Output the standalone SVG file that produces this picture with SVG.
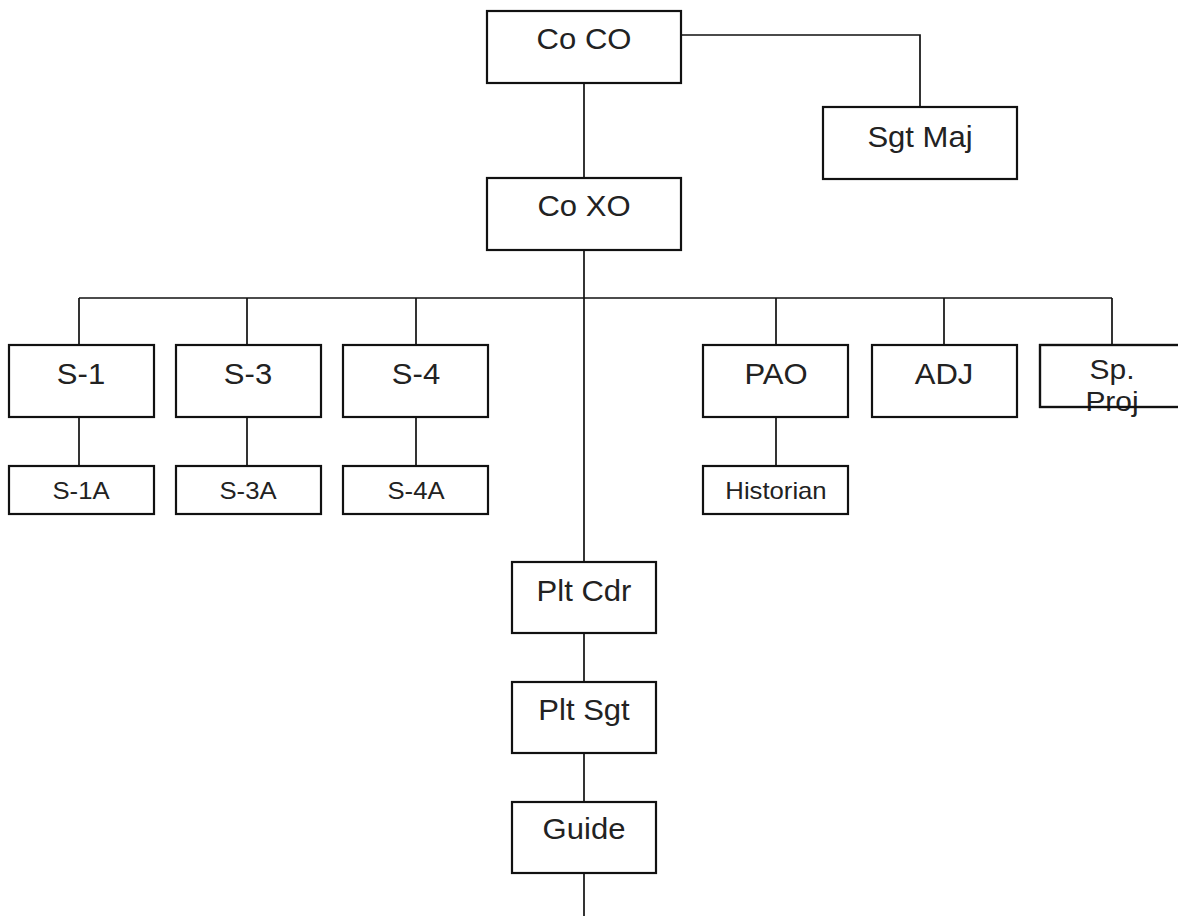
<svg xmlns="http://www.w3.org/2000/svg" width="1178" height="916" viewBox="0 0 1178 916">
<style>
.box{fill:#fff;stroke:#111;stroke-width:2.2}
.frame{fill:none;stroke:#111;stroke-width:2.2}
.t{font-family:"Liberation Sans",Arial,sans-serif;font-size:29px;fill:#222;text-anchor:middle}
.s{font-family:"Liberation Sans",Arial,sans-serif;font-size:24px;fill:#222;text-anchor:middle}
#connectors path{fill:none;stroke:#111;stroke-width:1.7}
</style>
<rect width="1178" height="916" fill="#fff"/>
<g id="connectors">
<path d="M681 35H920V107"/>
<path d="M584 83V178"/>
<path d="M584 250V562"/>
<path d="M79 298H1112"/>
<path d="M79 298V345M247 298V345M416 298V345M776 298V345M944 298V345M1112 298V345"/>
<path d="M79 417V466M247 417V466M416 417V466M776 417V466"/>
<path d="M584 633V682M584 753V802M584 873V916"/>
</g>
<g id="coco"><rect class="box" x="487" y="11" width="194" height="72"/><text class="t" transform="matrix(1.07 0 0 1 584 0)" y="49">Co CO</text></g>
<g id="sgtmaj"><rect class="box" x="823" y="107" width="194" height="72"/><text class="t" transform="matrix(1.07 0 0 1 920 0)" y="147">Sgt Maj</text></g>
<g id="coxo"><rect class="box" x="487" y="178" width="194" height="72"/><text class="t" transform="matrix(1.07 0 0 1 584 0)" y="216">Co XO</text></g>
<g id="s1"><rect class="box" x="9" y="345" width="145" height="72"/><text class="t" transform="matrix(1.07 0 0 1 81 0)" y="384">S-1</text></g>
<g id="s3"><rect class="box" x="176" y="345" width="145" height="72"/><text class="t" transform="matrix(1.07 0 0 1 248 0)" y="384">S-3</text></g>
<g id="s4"><rect class="box" x="343" y="345" width="145" height="72"/><text class="t" transform="matrix(1.07 0 0 1 416 0)" y="384">S-4</text></g>
<g id="pao"><rect class="box" x="703" y="345" width="145" height="72"/><text class="t" transform="matrix(1.07 0 0 1 776 0)" y="384">PAO</text></g>
<g id="adj"><rect class="box" x="872" y="345" width="145" height="72"/><text class="t" transform="matrix(1.07 0 0 1 944 0)" y="384">ADJ</text></g>
<g id="spproj"><rect class="box" x="1040" y="345" width="146" height="62"/><text class="t" transform="matrix(1.07 0 0 1 1112 0)" y="379" style="font-size:28px">Sp.</text><text class="t" transform="matrix(1.07 0 0 1 1112 0)" y="411" style="font-size:28px">Proj</text><rect class="frame" x="1040" y="345" width="146" height="62"/></g>
<g id="s1a"><rect class="box" x="9" y="466" width="145" height="48"/><text class="s" transform="matrix(1.07 0 0 1 81 0)" y="499">S-1A</text></g>
<g id="s3a"><rect class="box" x="176" y="466" width="145" height="48"/><text class="s" transform="matrix(1.07 0 0 1 248 0)" y="499">S-3A</text></g>
<g id="s4a"><rect class="box" x="343" y="466" width="145" height="48"/><text class="s" transform="matrix(1.07 0 0 1 416 0)" y="499">S-4A</text></g>
<g id="historian"><rect class="box" x="703" y="466" width="145" height="48"/><text class="s" transform="matrix(1.07 0 0 1 776 0)" y="499">Historian</text></g>
<g id="pltcdr"><rect class="box" x="512" y="562" width="144" height="71"/><text class="t" transform="matrix(1.07 0 0 1 584 0)" y="601">Plt Cdr</text></g>
<g id="pltsgt"><rect class="box" x="512" y="682" width="144" height="71"/><text class="t" transform="matrix(1.07 0 0 1 584 0)" y="720">Plt Sgt</text></g>
<g id="guide"><rect class="box" x="512" y="802" width="144" height="71"/><text class="t" transform="matrix(1.07 0 0 1 584 0)" y="839">Guide</text></g>
</svg>
